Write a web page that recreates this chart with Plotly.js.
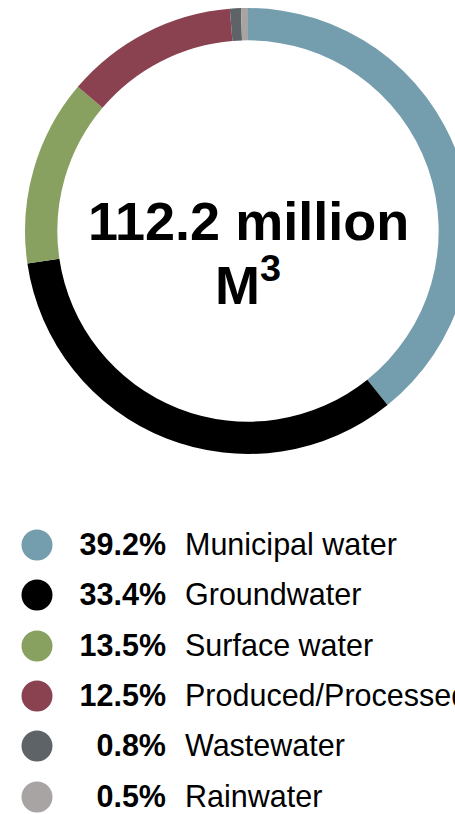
<!DOCTYPE html>
<html>
<head>
<meta charset="utf-8">
<script src="https://cdn.plot.ly/plotly-3.0.1.min.js"></script>
<style>
html, body { margin: 0; padding: 0; overflow: hidden; background: #ffffff; }
#chart { width: 496px; height: 814px; }
</style>
</head>
<body>
<div id="chart"></div>
<script>
// ---- data ----
const categories = ["Municipal water", "Groundwater", "Surface water", "Produced/Processed water", "Wastewater", "Rainwater"];
const shares = [39.2, 33.4, 13.5, 12.5, 0.8, 0.5];
const shareLabels = ["39.2%", "33.4%", "13.5%", "12.5%", "0.8%", "0.5%"];
const colors = ["#749dad", "#000000", "#89a160", "#8a4150", "#5e6368", "#a9a4a4"];
const totalLine1 = "112.2 million";
const totalLine2 = "M<sup>3</sup>";

// ---- geometry (pixels) ----
const W = 496, H = 814;
const rowY = [545, 595, 646, 696, 746, 797];
const textShift = 2;
const dotX = 37, pctRightX = 166, labelX = 185;

const fontReg = "Liberation Sans, Arial, sans-serif";

const pie = {
  type: "pie",
  values: shares,
  labels: categories,
  marker: { colors: colors, line: { width: 0 } },
  hole: 0.855,
  sort: false,
  direction: "clockwise",
  rotation: 0,
  textinfo: "none",
  hoverinfo: "none",
  showlegend: false,
  domain: { x: [0, 1], y: [(H - 454) / H, (H - 8) / H] }
};

const dots = {
  type: "scatter",
  mode: "markers",
  x: categories.map(() => dotX),
  y: rowY,
  marker: { size: 31, color: colors, line: { width: 0 } },
  hoverinfo: "none",
  showlegend: false,
  xaxis: "x", yaxis: "y"
};

const pcts = {
  type: "scatter",
  mode: "text",
  x: categories.map(() => pctRightX),
  y: rowY.map(v => v + textShift),
  text: shareLabels.map(s => "<b>" + s + "</b>"),
  textposition: "middle left",
  textfont: { family: fontReg, size: 30.5, color: "#000000" },
  hoverinfo: "none",
  showlegend: false,
  cliponaxis: false,
  xaxis: "x", yaxis: "y"
};

const labels = {
  type: "scatter",
  mode: "text",
  x: categories.map(() => labelX),
  y: rowY.map(v => v + textShift),
  text: categories,
  textposition: "middle right",
  textfont: { family: fontReg, size: 30.5, color: "#000000" },
  hoverinfo: "none",
  showlegend: false,
  cliponaxis: false,
  xaxis: "x", yaxis: "y"
};

const layout = {
  width: W,
  height: H,
  margin: { l: 0, r: 0, t: 0, b: 0 },
  paper_bgcolor: "#ffffff",
  plot_bgcolor: "rgba(0,0,0,0)",
  showlegend: false,
  xaxis: { range: [0, W], visible: false, fixedrange: true },
  yaxis: { range: [H, 0], visible: false, fixedrange: true },
  annotations: [
    {
      xref: "x", yref: "y", x: 248, y: 221,
      text: "<b>" + totalLine1 + "</b>",
      showarrow: false, xanchor: "center", yanchor: "middle",
      font: { family: fontReg, size: 54, color: "#000000" }
    },
    {
      xref: "x", yref: "y", x: 248, y: 281,
      text: "<b>" + totalLine2 + "</b>",
      showarrow: false, xanchor: "center", yanchor: "middle",
      font: { family: fontReg, size: 54, color: "#000000" }
    }
  ]
};

Plotly.newPlot("chart", [pie, dots, pcts, labels], layout, { displayModeBar: false, staticPlot: true });
</script>
</body>
</html>
